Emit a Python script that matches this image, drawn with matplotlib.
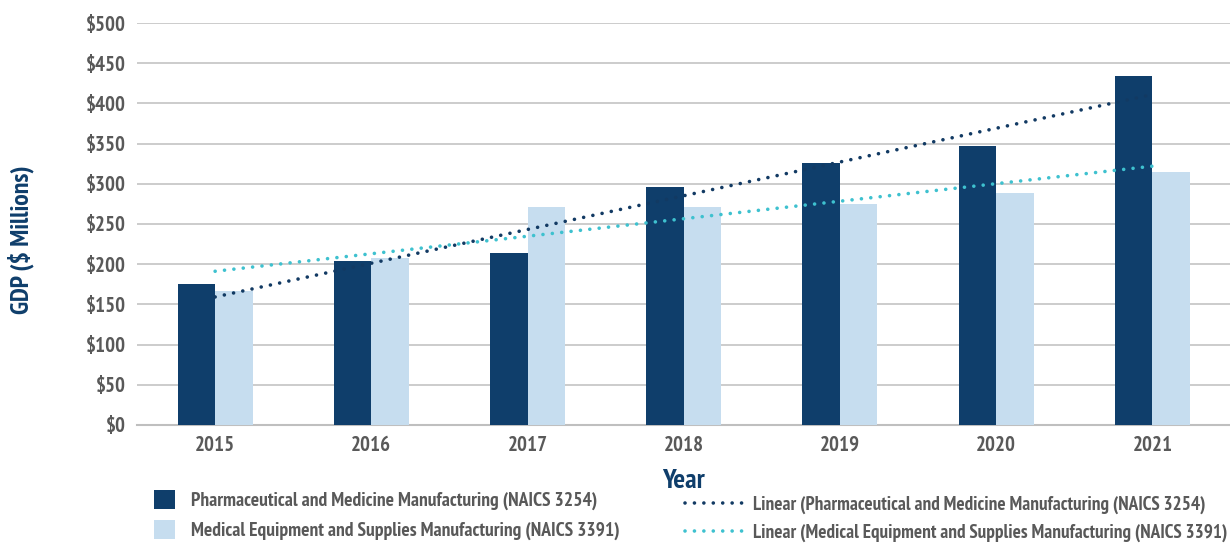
import numpy as np
import matplotlib.pyplot as plt
import matplotlib
from matplotlib.patches import Patch
from matplotlib.lines import Line2D

matplotlib.rcParams['font.family'] = ['PT Sans Narrow', 'Open Sans', 'DejaVu Sans']
matplotlib.rcParams['font.weight'] = 'bold'

# data
years = ['2015', '2016', '2017', '2018', '2019', '2020', '2021']
pharma = np.array([175, 204, 214, 296, 326, 347, 434])
medical = np.array([167, 208, 271, 271, 275, 289, 315])

pharma_label = 'Pharmaceutical and Medicine Manufacturing (NAICS 3254)'
medical_label = 'Medical Equipment and Supplies Manufacturing (NAICS 3391)'

dark = '#0f3e6b'
light = '#c6ddef'
trend_dark = '#123a63'
trend_light = '#3ec1cf'
grey = '#595959'

fig = plt.figure(figsize=(12.3, 5.44), dpi=100)
ax = fig.add_axes([0.1114, 0.2188, 0.889, 0.7389])

x = np.arange(len(years))
w = 0.24
ax.bar(x - w / 2, pharma, width=w, color=dark, zorder=3)
ax.bar(x + w / 2, medical, width=w, color=light, zorder=3)

# linear trendlines
p1 = np.polyfit(x, pharma, 1)
p2 = np.polyfit(x, medical, 1)
dots = (0, (0.01, 2.6))
ax.plot(x, np.polyval(p1, x), color=trend_dark, lw=2.6, ls=dots, dash_capstyle='round', zorder=4)
ax.plot(x, np.polyval(p2, x), color=trend_light, lw=2.6, ls=dots, dash_capstyle='round', zorder=4)

ax.set_xlim(-0.5, 6.5)
ax.set_ylim(0, 500)
ax.set_yticks(np.arange(0, 501, 50))
ax.set_yticklabels(['\\$%d' % v for v in range(0, 501, 50)])
ax.set_xticks(x)
ax.set_xticklabels(years)
ax.tick_params(length=0, labelsize=15, labelcolor=grey, pad=8)
ax.grid(axis='y', color='#c8c8c8', lw=1.3, zorder=0)
for s in ['top', 'right', 'left']:
    ax.spines[s].set_visible(False)
ax.spines['bottom'].set_color('#bfbfbf')
ax.spines['bottom'].set_linewidth(1.5)

ax.set_xlabel('Year', fontsize=20, color=dark, labelpad=10, fontweight='bold')
fig.text(0.017, 0.56, 'GDP (\\$ Millions)', rotation=90, fontsize=18.5, color=dark,
         ha='center', va='center', fontweight='bold')

h1 = [Patch(facecolor=dark, label=pharma_label), Patch(facecolor=light, label=medical_label)]
h2 = [Line2D([], [], color=trend_dark, lw=2.6, ls=dots, dash_capstyle='round', label='Linear (' + pharma_label),
      Line2D([], [], color=trend_light, lw=2.6, ls=dots, dash_capstyle='round', label='Linear (' + medical_label)]
leg1 = fig.legend(handles=h1, loc='upper left', bbox_to_anchor=(0.125, 0.099), frameon=False,
                  fontsize=14, labelcolor=grey, handlelength=1.1, handleheight=1.1,
                  handletextpad=0.8, labelspacing=0.5, borderaxespad=0, borderpad=0)
leg2 = fig.legend(handles=h2, loc='upper left', bbox_to_anchor=(0.557, 0.088), frameon=False,
                  fontsize=13.8, labelcolor=grey, handlelength=3.0,
                  handletextpad=0.55, labelspacing=0.5, borderaxespad=0, borderpad=0)

fig.savefig('out.png', dpi=100)
